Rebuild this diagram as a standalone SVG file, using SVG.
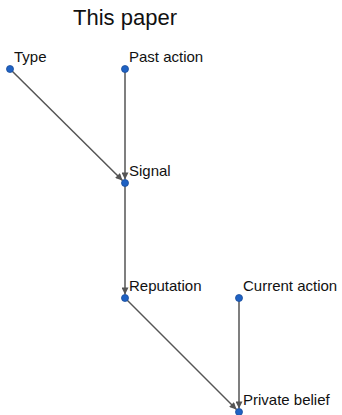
<svg xmlns="http://www.w3.org/2000/svg" width="342" height="415" viewBox="0 0 342 415">
<defs>
<style>
.lbl{font-family:"Liberation Sans",Arial,sans-serif;font-size:15px;fill:#111}
.title{font-family:"Liberation Sans",Arial,sans-serif;font-size:22px;fill:#111}
.dot{fill:#1f62c4;stroke:#1a4d99;stroke-width:0.8}
.edge{stroke:#555;stroke-width:1.5;fill:none;marker-end:url(#ah)}
</style>
<marker id="ah" viewBox="0 0 10 10" refX="10" refY="5" markerWidth="9" markerHeight="7" orient="auto" markerUnits="userSpaceOnUse">
<path d="M0,0 L10,5 L0,10 z" fill="#555"/>
</marker>
</defs>
<rect width="342" height="415" fill="#fff"/>
<text class="title" x="125" y="25" text-anchor="middle">This paper</text>
<g id="connectors">
<line class="edge" x1="10" y1="69" x2="122.5" y2="180.5"/>
<line class="edge" x1="125" y1="69" x2="125" y2="179.5"/>
<line class="edge" x1="125" y1="183" x2="125" y2="294.5"/>
<line class="edge" x1="125" y1="298" x2="236.5" y2="409.5"/>
<line class="edge" x1="239" y1="298" x2="239" y2="408.5"/>
</g>
<g id="type"><circle class="dot" cx="10" cy="69" r="3.5"/><text class="lbl" x="14" y="62">Type</text></g>
<g id="past-action"><circle class="dot" cx="125" cy="69" r="3.5"/><text class="lbl" x="129" y="62">Past action</text></g>
<g id="signal"><circle class="dot" cx="125" cy="183" r="3.5"/><text class="lbl" x="129" y="176">Signal</text></g>
<g id="reputation"><circle class="dot" cx="125" cy="298" r="3.5"/><text class="lbl" x="129" y="291">Reputation</text></g>
<g id="current-action"><circle class="dot" cx="239" cy="298" r="3.5"/><text class="lbl" x="243" y="291">Current action</text></g>
<g id="private-belief"><circle class="dot" cx="239" cy="412" r="3.5"/><text class="lbl" x="243" y="405">Private belief</text></g>
</svg>
